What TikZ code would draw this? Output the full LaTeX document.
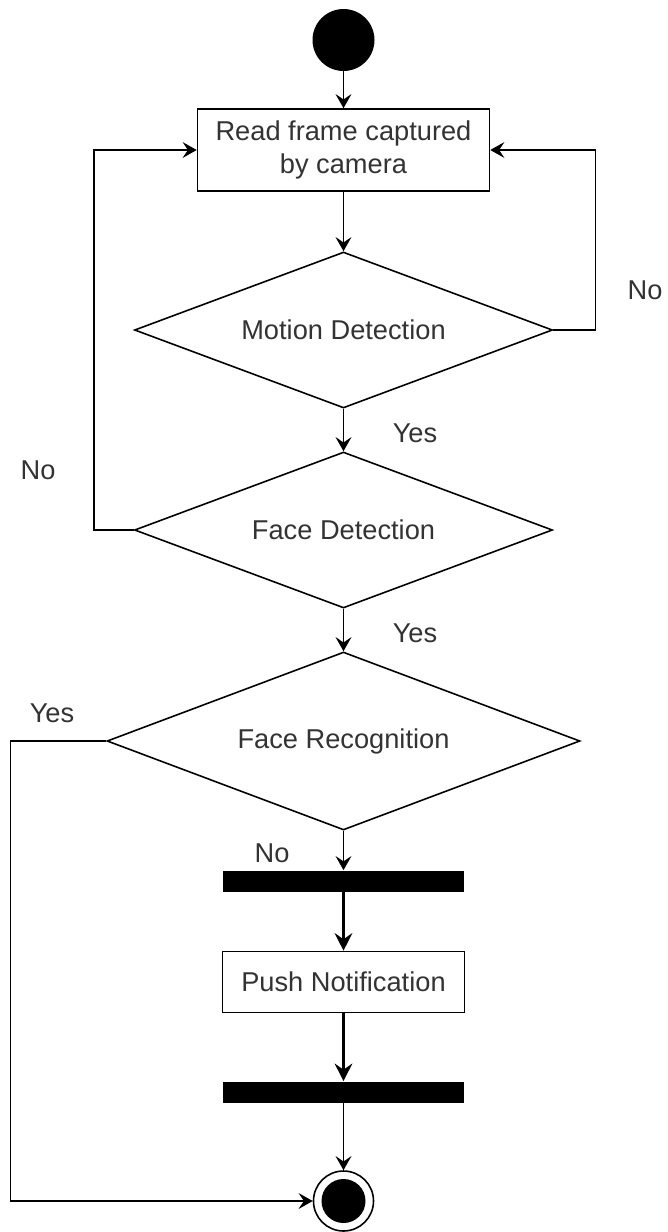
\documentclass[tikz,border=0pt]{standalone}
\usepackage{fontspec}
\setmainfont{Liberation Sans}
\usepackage{tikz}
\usetikzlibrary{shapes, shapes.geometric, arrows, arrows.meta, positioning}
\tikzstyle{startstate} = [circle, fill=black, minimum size=1.24cm, inner sep=0pt]
\tikzstyle{endstate} = [circle, draw, line width=0.9pt, minimum size=1.2cm, inner sep=0pt,
    path picture={\fill (path picture bounding box.center) circle (0.44cm);}]
\tikzstyle{activity} = [rectangle, draw, fill=white, line width=0.9pt,
    align=center, inner sep=0pt]
\tikzstyle{decision} = [diamond, draw, fill=white, line width=0.9pt, aspect=2.68,
    inner sep=0pt, minimum width=8.36cm, minimum height=3.12cm]
\tikzstyle{forkbar} = [rectangle, fill=black, minimum width=4.82cm,
    minimum height=0.42cm, inner sep=0pt]
\tikzstyle{guard} = [inner sep=0pt]
\tikzstyle{line} = [draw, line width=0.9pt, -{Stealth[length=8pt, width=9pt, inset=3pt]}]
\tikzstyle{thickline} = [draw, line width=1.8pt, -{Stealth[length=10pt, width=10pt, inset=3.5pt]}]

\begin{document}
\begin{tikzpicture}[node distance = 2cm, auto, text=black!80,
    font=\fontsize{15.5}{18.5}\selectfont]
    \useasboundingbox (0,0) rectangle (13.36,-24.64);
    % Nodes
    \node [startstate] at (6.87,-0.8) (start) {};
    \node [activity, below of=start, node distance=2.2cm,
        minimum width=5.84cm, minimum height=1.64cm] (read) {Read frame captured\\by camera};
    \node [decision, below of=read, node distance=3.6cm] (motion) {Motion Detection};
    \node [decision, below of=motion, node distance=4cm] (facedet) {Face Detection};
    \node [decision, below of=facedet, node distance=4.22cm,
        minimum width=9.46cm, minimum height=3.56cm] (facerec) {Face Recognition};
    \node [forkbar, below of=facerec, node distance=2.8cm] (fork) {};
    \node [activity, below of=fork, node distance=2.02cm,
        minimum width=4.84cm, minimum height=1.22cm] (notify) {Push Notification};
    \node [forkbar, below of=notify, node distance=2.2cm] (join) {};
    \node [endstate, below of=join, node distance=2.18cm] (end) {};
    % Guards
    \node [guard] at (12.9,-5.8) (nomotion) {No};
    \node [guard] at (8.3,-8.66) (yesmotion) {Yes};
    \node [guard] at (0.76,-9.4) (noface) {No};
    \node [guard] at (8.3,-12.66) (yesface) {Yes};
    \node [guard] at (1.04,-14.26) (yesknown) {Yes};
    \node [guard] at (5.44,-17.06) (noknown) {No};
    % Edges
    \path [line] (start) -- (read);
    \path [line] (read) -- (motion);
    \path [line] (motion) -- (facedet);
    \path [line] (facedet) -- (facerec);
    \path [line] (facerec) -- (fork);
    \path [thickline] (fork) -- (notify);
    \path [thickline] (notify) -- (join);
    \path [line] (join) -- (end);
    \path [line] (motion.east) -- ++(0.84,0) |- (read.east);
    \path [line] (facedet.west) -- ++(-0.8,0) |- (read.west);
    \path [line] (facerec.west) -- ++(-1.91,0) |- (end.west);
\end{tikzpicture}
\end{document}
